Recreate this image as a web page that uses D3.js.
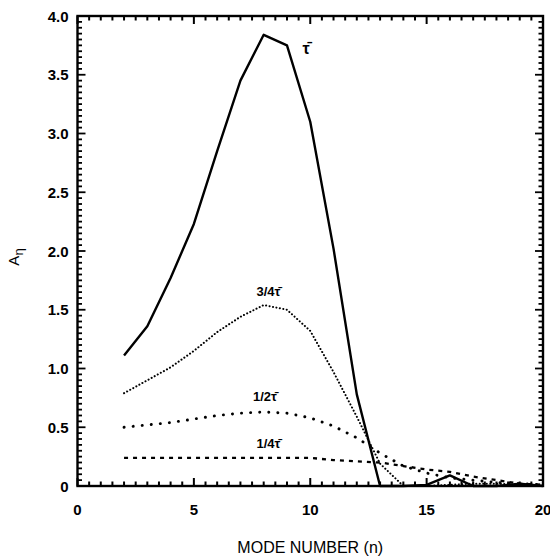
<!DOCTYPE html>
<html>
<head>
<meta charset="utf-8">
<script src="https://cdn.jsdelivr.net/npm/d3@7"></script>
<style>
  body { margin: 0; background: #fff; }
  svg text { font-family: "Liberation Sans", Arial, sans-serif; fill: #000; }
  .tick-label { font-size: 15px; font-weight: bold; }
</style>
</head>
<body>
<div id="chart"></div>
<script>
// mode numbers n = 2..20
const modes = [2,3,4,5,6,7,8,9,10,11,12,13,14,15,16,17,18,19,20];

// A_n for each decay time
const full    = [1.11,1.36,1.77,2.23,2.85,3.45,3.84,3.75,3.10,2.02,0.78,0,0,0.01,0.09,0,0,0.02,0];
const threeQ  = [0.79,0.90,1.01,1.15,1.31,1.44,1.54,1.50,1.32,0.97,0.59,0.19,0,0,0.01,0.02,0.02,0.01,0.01];
const half    = [0.50,0.52,0.54,0.57,0.60,0.62,0.63,0.62,0.58,0.51,0.41,0.28,0.17,0.11,0.07,0.05,0.03,0.02,0.01];
const quarter = [0.24,0.24,0.24,0.24,0.24,0.24,0.24,0.24,0.24,0.22,0.21,0.20,0.17,0.14,0.12,0.08,0.05,0.02,0.01];

const xTicks = [0,5,10,15,20];
const yTicks = [0,0.5,1.0,1.5,2.0,2.5,3.0,3.5,4.0];
const yTickLabels = ["0","0.5","1.0","1.5","2.0","2.5","3.0","3.5","4.0"];

const width = 550, height = 556;
const margin = {t:16, r:7, b:70, l:77.5};
const w = width - margin.l - margin.r;
const h = height - margin.t - margin.b;

const svg = d3.select('#chart').append('svg')
  .attr('width', width)
  .attr('height', height);

const plot = svg.append('g')
  .attr('transform', `translate(${margin.l},${margin.t})`);

const scaleX = d3.scaleLinear().domain([0,20]).range([0,w]);
const scaleY = d3.scaleLinear().domain([0,4]).range([h,0]);

// inward ticks on all four sides
const minorX = d3.range(0, 41).map(i => i * 0.5);
const minorY = d3.range(0, 81).map(i => i * 0.05);
const isMajorX = v => Math.abs(v / 5 - Math.round(v / 5)) < 1e-6;
const isMajorY = v => Math.abs(v / 0.5 - Math.round(v / 0.5)) < 1e-6;

const ticks = plot.append('g');

// bottom and top
[h, 0].forEach(y0 => {
  const dir = y0 === 0 ? 1 : -1;
  ticks.append('g').selectAll('line').data(minorX).enter().append('line')
    .attr('x1', d => scaleX(d)).attr('x2', d => scaleX(d))
    .attr('y1', y0).attr('y2', d => y0 + dir * (isMajorX(d) ? 8 : 4.5))
    .attr('stroke', '#000').attr('stroke-width', 2);
});
// left and right
[0, w].forEach(x0 => {
  const dir = x0 === 0 ? 1 : -1;
  ticks.append('g').selectAll('line').data(minorY).enter().append('line')
    .attr('y1', d => scaleY(d)).attr('y2', d => scaleY(d))
    .attr('x1', x0).attr('x2', d => x0 + dir * (isMajorY(d) ? 8 : 4.5))
    .attr('stroke', '#000').attr('stroke-width', 1.8);
});

// frame
plot.append('rect')
  .attr('width', w).attr('height', h)
  .attr('fill', 'none').attr('stroke', '#000').attr('stroke-width', 2.4);

// tick labels
plot.selectAll('.xlab').data(xTicks).enter().append('text')
  .attr('class', 'tick-label')
  .attr('x', d => scaleX(d))
  .attr('y', h + 29)
  .attr('text-anchor', 'middle')
  .text(d => d);

plot.selectAll('.ylab').data(yTicks).enter().append('text')
  .attr('class', 'tick-label')
  .attr('x', -9)
  .attr('y', d => scaleY(d) + 5.5)
  .attr('text-anchor', 'end')
  .text((d,i) => yTickLabels[i]);

// lines
const line = d3.line()
  .x((d,i) => scaleX(modes[i]))
  .y(d => scaleY(d));

const series = [
  {vals: full,    width: 2.4, dash: null,      cap: 'butt'},
  {vals: threeQ,  width: 2.0, dash: '0.1,3.4', cap: 'round'},
  {vals: half,    width: 2.9, dash: '0.1,9',   cap: 'round'},
  {vals: quarter, width: 2.3, dash: '4,5',     cap: 'butt'}
];

plot.selectAll('.series').data(series).enter().append('path')
  .attr('class', 'series')
  .attr('d', d => line(d.vals))
  .attr('fill', 'none')
  .attr('stroke', '#000')
  .attr('stroke-width', d => d.width)
  .attr('stroke-dasharray', d => d.dash)
  .attr('stroke-linecap', d => d.cap)
  .attr('stroke-linejoin', 'round');

// curve labels
const curveLabels = [
  {t: 'τ̄', n: 9.82, v: 3.68, size: 16},
  {t: '3/4τ̄', n: 8.2, v: 1.62, size: 13},
  {t: '1/2τ̄', n: 8.05, v: 0.72, size: 13},
  {t: '1/4τ̄', n: 8.2, v: 0.32, size: 13}
];
plot.selectAll('.clab').data(curveLabels).enter().append('text')
  .attr('x', d => scaleX(d.n))
  .attr('y', d => scaleY(d.v))
  .attr('text-anchor', 'middle')
  .style('font-size', d => d.size + 'px')
  .style('font-weight', 'bold')
  .text(d => d.t);

// axis titles
svg.append('text')
  .attr('x', margin.l + w/2)
  .attr('y', 553)
  .attr('text-anchor', 'middle')
  .style('font-size', '16px')
  .text('MODE NUMBER (n)');

const yTitle = svg.append('text')
  .attr('transform', 'translate(19,257) rotate(-90)')
  .attr('text-anchor', 'middle')
  .style('font-size', '15px');
yTitle.append('tspan').text('A');
yTitle.append('tspan').attr('dy', 4).style('font-size', '13px').text('η');
</script>
</body>
</html>
